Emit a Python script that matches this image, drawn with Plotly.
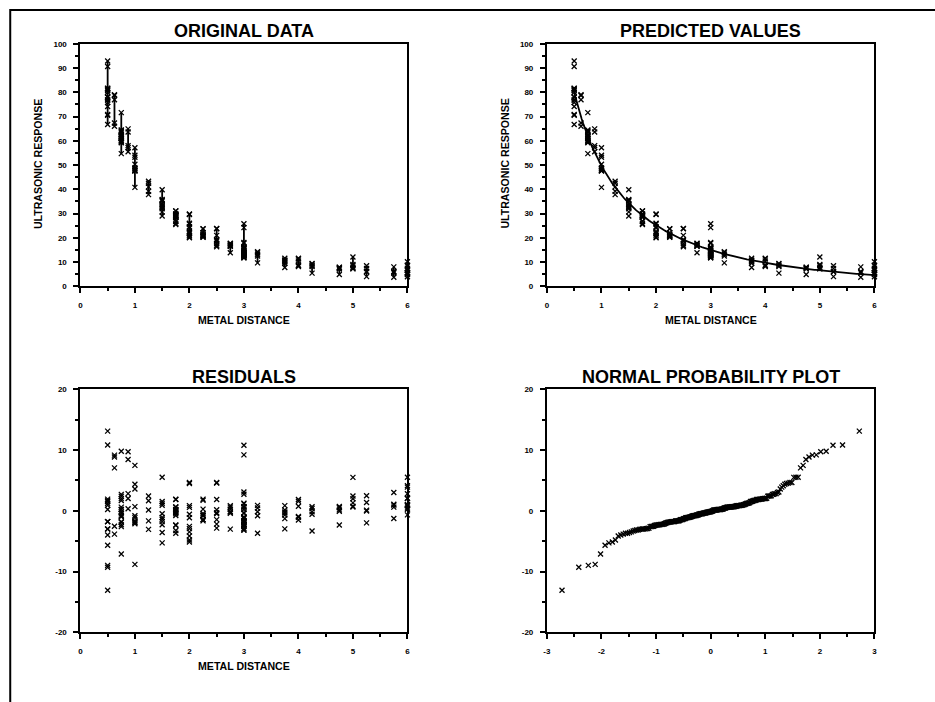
import math
from statistics import NormalDist
import plotly.graph_objects as go

# ---- data (Ultrasonic reference block study) ----
metal_distance = [
    0.5, 0.625, 0.75, 0.875, 1.0, 1.25, 1.75, 2.25, 1.75, 2.25, 2.75, 3.25, 3.75, 4.25, 4.75, 5.25, 5.75,
    0.5, 0.625, 0.75, 0.875, 1.0, 1.25, 1.75, 2.25, 1.75, 2.25, 2.75, 3.25, 3.75, 4.25, 4.75, 5.25, 5.75,
    0.5, 0.625, 0.75, 0.875, 1.0, 1.25, 1.75, 2.25, 1.75, 2.25, 2.75, 3.25, 3.75, 4.25, 4.75, 5.25, 5.75,
    0.5, 0.625, 0.75, 0.875, 1.0, 1.25, 1.75, 2.25, 1.75, 2.25, 2.75, 3.25, 3.75, 4.25, 4.75, 5.25, 5.75,
    0.5, 0.75, 1.5, 3.0, 3.0, 3.0, 6.0,
    0.5, 0.75, 1.5, 3.0, 3.0, 3.0, 6.0,
    0.5, 0.75, 1.5, 3.0, 3.0, 3.0, 6.0,
    0.5, 0.75, 1.5, 3.0, 6.0, 3.0, 3.0, 6.0,
    0.5, 0.75, 1.0, 1.5, 2.0, 2.0, 2.5, 3.0, 4.0, 5.0, 6.0,
    0.5, 0.75, 1.0, 1.5, 2.0, 2.0, 2.5, 3.0, 4.0, 5.0, 6.0,
    0.5, 0.75, 1.0, 1.5, 2.0, 2.0, 2.5, 3.0, 4.0, 5.0, 6.0,
    0.5, 0.625, 0.75, 0.875, 1.0, 1.25, 2.25, 2.25, 2.75, 3.25, 3.75, 4.25, 4.75, 5.25, 5.75,
    3.0, 3.0, 3.0, 3.0, 3.0, 3.0,
    0.5, 0.75, 1.0, 1.5, 2.0, 2.5, 2.0, 2.5, 3.0, 4.0, 5.0, 6.0,
    0.5, 0.75, 1.0, 1.5, 2.0, 2.5, 2.0, 2.5, 3.0, 4.0, 5.0, 6.0,
    0.5, 0.75, 1.0, 1.5, 2.0, 2.5, 2.0, 2.5, 3.0, 4.0, 5.0, 6.0,
    3.0, 0.5, 0.75, 1.5, 3.0, 6.0, 3.0, 6.0, 3.0, 3.0, 3.0, 1.75, 1.75,
    0.5, 0.75, 1.75, 1.75, 2.75, 3.75, 1.75, 1.75,
    0.5, 0.75, 2.75, 3.75, 1.75, 1.75,
]
ultrasonic_response = [
    92.9, 78.7, 64.2, 64.9, 57.1, 43.3, 31.1, 23.6, 31.05, 23.775, 17.7375, 13.8, 11.5875, 9.4125, 7.725, 7.35, 8.025,
    90.6, 76.9, 71.6, 63.6, 54.0, 39.2, 29.3, 21.4, 29.175, 22.125, 17.5125, 14.25, 9.45, 9.15, 7.9125, 8.475, 6.1125,
    80.0, 79.0, 63.8, 57.2, 53.2, 42.5, 26.8, 20.4, 26.85, 21.0, 16.4625, 12.525, 10.5375, 8.5875, 7.125, 6.1125, 5.9625,
    74.1, 67.3, 60.8, 55.5, 50.3, 41.0, 29.4, 20.4, 29.3625, 21.15, 16.7625, 13.2, 10.875, 8.175, 7.35, 5.9625, 5.625,
    81.5, 62.4, 32.5, 12.41, 13.12, 15.56, 5.63,
    78.0, 59.9, 33.2, 13.84, 12.75, 14.62, 3.94,
    76.8, 61.0, 32.9, 13.87, 11.81, 13.31, 5.44,
    78.0, 63.5, 33.8, 12.56, 5.63, 12.75, 13.12, 5.44,
    76.8, 60.0, 47.8, 32.0, 22.2, 22.57, 18.82, 13.95, 11.25, 9.0, 6.67,
    75.8, 62.0, 48.8, 35.2, 20.0, 20.32, 19.31, 12.75, 10.42, 7.31, 7.42,
    70.5, 59.5, 48.5, 35.8, 21.0, 21.67, 21.0, 15.64, 8.17, 8.55, 10.12,
    78.0, 66.0, 62.0, 58.0, 47.7, 37.8, 20.2, 21.07, 13.87, 9.67, 7.76, 5.44, 4.87, 4.01, 3.75,
    24.19, 25.76, 18.07, 11.81, 12.07, 16.12,
    70.8, 54.7, 48.0, 39.8, 29.8, 23.7, 29.62, 23.81, 17.7, 11.55, 12.07, 8.74,
    80.7, 61.3, 47.5, 29.0, 24.0, 17.7, 24.56, 18.67, 16.24, 8.74, 7.87, 8.51,
    66.7, 59.2, 40.8, 30.7, 25.7, 16.3, 25.99, 16.95, 13.35, 8.62, 7.2, 6.64,
    13.69, 81.0, 64.5, 35.5, 13.31, 4.87, 12.94, 5.06, 15.19, 14.62, 15.64, 25.5, 25.95,
    81.7, 61.6, 29.8, 29.81, 17.17, 10.39, 28.4, 28.69,
    81.3, 60.9, 16.65, 10.05, 28.9, 28.95,
]
# fitted model y = exp(-b1*x) / (b2 + b3*x)
b1, b2, b3 = 0.19027818370, 0.0061314004477, 0.010530908399

titles = ["ORIGINAL DATA", "PREDICTED VALUES", "RESIDUALS", "NORMAL PROBABILITY PLOT"]
x_label = "METAL DISTANCE"
y_label = "ULTRASONIC RESPONSE"
resp_ticks = [0, 10, 20, 30, 40, 50, 60, 70, 80, 90, 100]
dist_ticks = [0, 1, 2, 3, 4, 5, 6]
res_ticks = [-20, -10, 0, 10, 20]
res_ticktext = ["-20", "-10", "0", "10", "20"]
npp_ticks = [-3, -2, -1, 0, 1, 2, 3]
npp_ticktext = ["-3", "-2", "-1", "0", "1", "2", "3"]

# ---- derived quantities ----
def model(x):
    return math.exp(-b1 * x) / (b2 + b3 * x)

residuals = [y - model(x) for x, y in zip(metal_distance, ultrasonic_response)]
n = len(residuals)
mn = 0.5 ** (1.0 / n)
medians = []
for i in range(1, n + 1):
    if i == 1:
        m = 1 - mn
    elif i == n:
        m = mn
    else:
        m = (i - 0.3175) / (n + 0.365)
    medians.append(NormalDist().inv_cdf(m))
sorted_res = sorted(residuals)

curve_x = [0.5 + k * (6.0 - 0.5) / 200 for k in range(201)]
curve_y = [model(v) for v in curve_x]

# ---- figure ----
W, H = 938, 705  # slightly larger than the window to fill it after the page offset fix
FONT = "Liberation Sans, Arial, sans-serif"
fig = go.Figure()

mk = dict(symbol="x-thin-open", size=5, color="black", line=dict(color="black", width=1.3))

groups = sorted(set(metal_distance))
for g in groups:
    ys = [y for x, y in zip(metal_distance, ultrasonic_response) if x == g]
    xs = [g] * len(ys)
    fig.add_trace(go.Scatter(x=xs, y=ys, mode="lines+markers", marker=mk,
                             line=dict(color="black", width=1.8), xaxis="x", yaxis="y",
                             cliponaxis=False, showlegend=False))

fig.add_trace(go.Scatter(x=metal_distance, y=ultrasonic_response, mode="markers", marker=mk,
                         xaxis="x2", yaxis="y2", cliponaxis=False, showlegend=False))
fig.add_trace(go.Scatter(x=curve_x, y=curve_y, mode="lines", line=dict(color="black", width=1.8),
                         xaxis="x2", yaxis="y2", showlegend=False))

fig.add_trace(go.Scatter(x=metal_distance, y=residuals, mode="markers", marker=mk,
                         xaxis="x3", yaxis="y3", cliponaxis=False, showlegend=False))

fig.add_trace(go.Scatter(x=medians, y=sorted_res, mode="markers", marker=mk,
                         xaxis="x4", yaxis="y4", cliponaxis=False, showlegend=False))

def px_x(p):
    return p / W

def px_y(p):
    return 1 - p / H

L_dom = [px_x(80), px_x(409.5)]
R_dom = [px_x(550), px_x(880)]
T_dom = [px_y(289), px_y(43.3)]
B_dom = [px_y(639.5), px_y(393.3)]

tickfont = dict(size=8, family=FONT, color="black", weight="bold")

def axis(rng, vals, text, minor_dtick, minor_tick0, domain, anchor, standoff):
    return dict(range=rng, domain=domain, anchor=anchor, showline=True, linecolor="black",
                linewidth=2, mirror=True, ticks="outside", ticklen=5, tickwidth=2,
                tickcolor="black", tickmode="array", tickvals=vals, ticktext=text,
                minor=dict(tickmode="linear", tick0=minor_tick0, dtick=minor_dtick, ticks="outside",
                           ticklen=3, tickwidth=1.5, tickcolor="black", showgrid=False),
                showgrid=False, zeroline=False, tickfont=tickfont, ticklabelstandoff=standoff,
                fixedrange=True)

dist_text = [str(v) for v in dist_ticks]
resp_text = [str(v) for v in resp_ticks]

fig.update_layout(
    width=W, height=H, autosize=False,
    margin=dict(l=0, r=0, t=0, b=0),
    paper_bgcolor="white", plot_bgcolor="white",
    xaxis=axis([0, 6], dist_ticks, dist_text, 0.5, 0, L_dom, "y", 5),
    yaxis=axis([0, 100], resp_ticks, resp_text, 5, 0, T_dom, "x", 5),
    xaxis2=axis([0, 6], dist_ticks, dist_text, 0.5, 0, R_dom, "y2", 5),
    yaxis2=axis([0, 100], resp_ticks, resp_text, 5, 0, T_dom, "x2", 5),
    xaxis3=axis([0, 6], dist_ticks, dist_text, 0.5, 0, L_dom, "y3", 5),
    yaxis3=axis([-20, 20], res_ticks, res_ticktext, 5, -20, B_dom, "x3", 5),
    xaxis4=axis([-3, 3], npp_ticks, npp_ticktext, 0.5, -3, R_dom, "y4", 5),
    yaxis4=axis([-20, 20], res_ticks, res_ticktext, 5, -20, B_dom, "x4", 5),
)

ann = []
title_font = dict(size=18, family=FONT, color="black", weight="bold")
lab_font = dict(size=10.6, family=FONT, color="black", weight="bold")
centers = [px_x((80 + 409.5) / 2), px_x((550 + 880) / 2)]
for i, t in enumerate(titles):
    cx = centers[i % 2]
    cy = px_y(30) if i < 2 else px_y(381)
    ann.append(dict(text=t, x=cx, y=cy, xref="paper", yref="paper", showarrow=False,
                    font=title_font, xanchor="center", yanchor="middle"))
for cx, cy in [(centers[0], px_y(323)), (centers[1], px_y(323)), (centers[0], px_y(674))]:
    ann.append(dict(text=x_label, x=cx, y=cy, xref="paper", yref="paper", showarrow=False,
                    font=lab_font, xanchor="center", yanchor="middle"))
for cx in [px_x(37.5), px_x(507.5)]:
    ann.append(dict(text=y_label, x=cx, y=px_y(165), xref="paper", yref="paper", showarrow=False,
                    font=lab_font, textangle=-90, xanchor="center", yanchor="middle"))
fig.update_layout(annotations=ann)

fig.add_shape(type="rect", xref="paper", yref="paper", x0=px_x(9.3), x1=1.05, y0=-0.05, y1=px_y(9),
              line=dict(color="black", width=2), fillcolor="rgba(0,0,0,0)")

fig.write_html("out.html", config={"displayModeBar": False},
               post_script="document.body.style.margin='0';document.body.style.padding='0';"
                           "document.documentElement.style.margin='0';document.body.style.overflow='hidden';"
                           "var d=document.getElementById('{plot_id}');d.style.position='absolute';"
                           "d.style.left='-3px';d.style.top='-3px';")
